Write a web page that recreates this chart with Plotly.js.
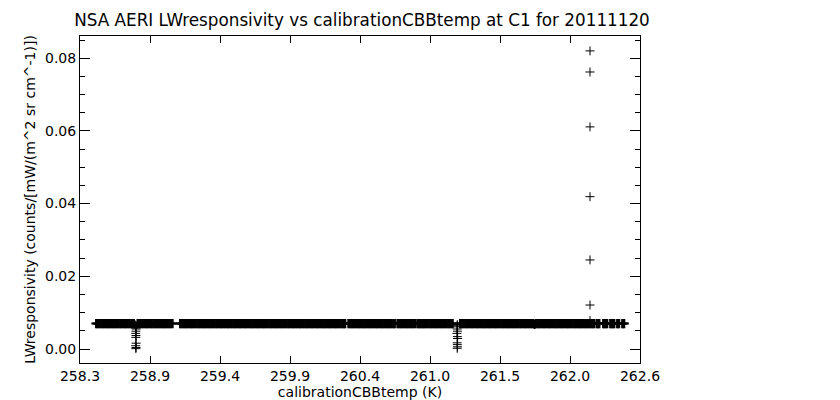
<!DOCTYPE html>
<html>
<head>
<meta charset="utf-8">
<script src="https://cdn.plot.ly/plotly-3.0.1.min.js"></script>
<style>html,body{margin:0;padding:0;background:#fff;}#chart{width:840px;height:400px;}</style>
</head>
<body>
<div id="chart"></div>
<script>
// Dense calibration band, read per contiguous segment as [calibrationCBBtemp (K), LWresponsivity]
const seg1 = [[258.470,0.0070],[258.479,0.0070],[258.489,0.0070],[258.497,0.0070],[258.506,0.0070],[258.516,0.0070],[258.524,0.0070],[258.533,0.0070],[258.543,0.0070],[258.551,0.0070],[258.560,0.0070],[258.570,0.0070],[258.578,0.0070],[258.587,0.0070],[258.597,0.0070],[258.605,0.0070],[258.614,0.0070],[258.624,0.0070],[258.632,0.0070],[258.641,0.0070],[258.651,0.0070],[258.659,0.0070],[258.668,0.0070],[258.678,0.0070],[258.686,0.0070],[258.695,0.0070],[258.705,0.0070],[258.713,0.0070],[258.722,0.0070],[258.732,0.0070],[258.740,0.0070],[258.748,0.0070],[258.755,0.0070]];
const seg2 = [[258.781,0.0070],[258.790,0.0070],[258.799,0.0070],[258.808,0.0070],[258.818,0.0070],[258.826,0.0070],[258.835,0.0070],[258.845,0.0070],[258.853,0.0070],[258.862,0.0070],[258.872,0.0070],[258.880,0.0070],[258.889,0.0070],[258.899,0.0070],[258.907,0.0070],[258.916,0.0070],[258.926,0.0070],[258.934,0.0070],[258.943,0.0070],[258.953,0.0070],[258.961,0.0070],[258.970,0.0070],[258.980,0.0070],[258.988,0.0070],[258.997,0.0070],[259.007,0.0070],[259.015,0.0070],[259.024,0.0070],[259.034,0.0070],[259.045,0.0070]];
const seg3 = [[259.100,0.0070],[259.109,0.0070],[259.118,0.0070],[259.128,0.0070],[259.136,0.0070],[259.145,0.0070],[259.155,0.0070],[259.163,0.0070],[259.172,0.0070],[259.182,0.0070],[259.190,0.0070],[259.199,0.0070],[259.209,0.0070],[259.217,0.0070],[259.226,0.0070],[259.236,0.0070],[259.244,0.0070],[259.253,0.0070],[259.263,0.0070],[259.271,0.0070],[259.280,0.0070],[259.290,0.0070],[259.298,0.0070],[259.307,0.0070],[259.317,0.0070],[259.325,0.0070],[259.334,0.0070],[259.344,0.0070],[259.352,0.0070],[259.361,0.0070],[259.371,0.0070],[259.379,0.0070],[259.388,0.0070],[259.398,0.0070],[259.406,0.0070],[259.415,0.0070],[259.425,0.0070],[259.433,0.0070],[259.442,0.0070],[259.452,0.0070],[259.460,0.0070],[259.469,0.0070],[259.479,0.0070],[259.487,0.0070],[259.496,0.0070],[259.506,0.0070],[259.514,0.0070],[259.523,0.0070],[259.533,0.0070],[259.541,0.0070],[259.550,0.0070],[259.560,0.0070],[259.568,0.0070],[259.577,0.0070],[259.587,0.0070],[259.595,0.0070],[259.604,0.0070],[259.614,0.0070],[259.622,0.0070],[259.631,0.0070],[259.641,0.0070],[259.649,0.0070],[259.658,0.0070],[259.668,0.0070],[259.676,0.0070],[259.685,0.0070],[259.695,0.0070],[259.703,0.0070],[259.712,0.0070],[259.722,0.0070],[259.730,0.0070],[259.739,0.0070],[259.749,0.0070],[259.757,0.0070],[259.766,0.0070],[259.776,0.0070],[259.784,0.0070],[259.793,0.0070],[259.803,0.0070],[259.811,0.0070],[259.820,0.0070],[259.830,0.0070],[259.838,0.0070],[259.847,0.0070],[259.857,0.0070],[259.865,0.0070],[259.874,0.0070],[259.884,0.0070],[259.892,0.0070],[259.901,0.0070],[259.911,0.0070],[259.919,0.0070],[259.928,0.0070],[259.938,0.0070],[259.946,0.0070],[259.955,0.0070],[259.965,0.0070],[259.973,0.0070],[259.982,0.0070],[259.992,0.0070],[260.000,0.0070],[260.009,0.0070],[260.019,0.0070],[260.027,0.0070],[260.036,0.0070],[260.046,0.0070],[260.054,0.0070],[260.063,0.0070],[260.073,0.0070],[260.081,0.0070],[260.090,0.0070],[260.100,0.0070],[260.108,0.0070],[260.117,0.0070],[260.127,0.0070],[260.135,0.0070],[260.144,0.0070],[260.154,0.0070],[260.162,0.0070],[260.171,0.0070],[260.181,0.0070],[260.189,0.0070],[260.198,0.0070],[260.208,0.0070],[260.216,0.0070],[260.225,0.0070],[260.235,0.0070],[260.243,0.0070],[260.252,0.0070],[260.262,0.0070],[260.270,0.0070],[260.279,0.0070],[260.289,0.0070],[260.297,0.0070],[260.306,0.0070],[260.316,0.0070],[260.324,0.0070],[260.333,0.0070],[260.340,0.0070]];
const seg4 = [[260.362,0.0070],[260.371,0.0070],[260.381,0.0070],[260.389,0.0070],[260.398,0.0070],[260.408,0.0070],[260.416,0.0070],[260.425,0.0070],[260.435,0.0070],[260.443,0.0070],[260.452,0.0070],[260.462,0.0070],[260.470,0.0070],[260.479,0.0070],[260.489,0.0070],[260.497,0.0070],[260.506,0.0070],[260.516,0.0070],[260.524,0.0070],[260.533,0.0070],[260.543,0.0070],[260.551,0.0070],[260.560,0.0070],[260.570,0.0070],[260.578,0.0070],[260.587,0.0070],[260.597,0.0070],[260.605,0.0070],[260.614,0.0070],[260.624,0.0070],[260.632,0.0070],[260.641,0.0070],[260.651,0.0070],[260.659,0.0070],[260.668,0.0070],[260.678,0.0070],[260.686,0.0070],[260.695,0.0070],[260.705,0.0070],[260.712,0.0070]];
const seg5 = [[260.730,0.0070],[260.739,0.0070],[260.749,0.0070],[260.757,0.0070],[260.766,0.0070],[260.776,0.0070],[260.784,0.0070],[260.793,0.0070],[260.803,0.0070],[260.811,0.0070],[260.820,0.0070],[260.830,0.0070],[260.838,0.0070],[260.847,0.0070],[260.857,0.0070],[260.866,0.0070]];
const seg6 = [[260.880,0.0070],[260.888,0.0070],[260.897,0.0070],[260.905,0.0070],[260.914,0.0070],[260.922,0.0070],[260.930,0.0070],[260.939,0.0070],[260.949,0.0070],[260.957,0.0070],[260.966,0.0070],[260.976,0.0070],[260.984,0.0070],[260.993,0.0070],[261.003,0.0070],[261.011,0.0070],[261.020,0.0070],[261.030,0.0070],[261.038,0.0070],[261.047,0.0070],[261.057,0.0070],[261.065,0.0070],[261.074,0.0070],[261.084,0.0070],[261.092,0.0070],[261.101,0.0070],[261.111,0.0070],[261.119,0.0070],[261.128,0.0070],[261.138,0.0070],[261.146,0.0070]];
const seg7 = [[261.200,0.0070],[261.209,0.0070],[261.219,0.0070],[261.227,0.0070],[261.236,0.0070],[261.246,0.0070],[261.254,0.0070],[261.263,0.0070],[261.273,0.0070],[261.281,0.0070],[261.290,0.0070],[261.300,0.0070],[261.308,0.0070],[261.317,0.0070],[261.327,0.0070],[261.335,0.0070],[261.344,0.0070],[261.354,0.0070],[261.362,0.0070],[261.371,0.0070],[261.381,0.0070],[261.389,0.0070],[261.398,0.0070],[261.408,0.0070],[261.416,0.0070],[261.425,0.0070],[261.435,0.0070],[261.443,0.0070],[261.452,0.0070],[261.462,0.0070],[261.470,0.0070],[261.479,0.0070],[261.489,0.0070],[261.497,0.0070],[261.506,0.0070],[261.516,0.0070],[261.524,0.0070],[261.533,0.0070],[261.543,0.0070],[261.551,0.0070],[261.560,0.0070],[261.570,0.0070],[261.578,0.0070],[261.587,0.0070],[261.597,0.0070],[261.605,0.0070],[261.614,0.0070],[261.624,0.0070],[261.632,0.0070],[261.641,0.0070],[261.651,0.0070],[261.659,0.0070],[261.668,0.0070],[261.678,0.0070],[261.686,0.0070],[261.695,0.0070],[261.705,0.0070],[261.713,0.0070],[261.722,0.0070],[261.732,0.0070],[261.740,0.0070],[261.749,0.0070],[261.759,0.0068],[261.767,0.0070],[261.776,0.0070],[261.786,0.0070],[261.794,0.0070],[261.803,0.0070],[261.813,0.0070],[261.821,0.0070],[261.830,0.0070],[261.840,0.0070],[261.848,0.0070],[261.857,0.0070],[261.867,0.0070],[261.875,0.0070],[261.884,0.0070],[261.894,0.0070],[261.902,0.0070],[261.911,0.0070],[261.921,0.0070],[261.929,0.0070],[261.938,0.0070],[261.948,0.0070],[261.956,0.0070],[261.965,0.0070],[261.975,0.0070],[261.983,0.0070],[261.992,0.0070],[262.002,0.0070],[262.010,0.0070],[262.019,0.0070],[262.029,0.0070],[262.037,0.0070],[262.046,0.0070],[262.056,0.0070],[262.064,0.0070],[262.073,0.0070],[262.083,0.0070],[262.091,0.0070],[262.100,0.0070],[262.110,0.0070],[262.118,0.0070],[262.127,0.0070],[262.137,0.0070],[262.145,0.0070],[262.154,0.0070],[262.164,0.0070],[262.172,0.0070],[262.181,0.0070],[262.191,0.0070],[262.199,0.0070],[262.207,0.0070]];
const seg8 = [[262.224,0.0070],[262.231,0.0070],[262.238,0.0070],[262.246,0.0070],[262.273,0.0070],[262.281,0.0070],[262.289,0.0070],[262.297,0.0070],[262.305,0.0070],[262.326,0.0070],[262.334,0.0070],[262.342,0.0070],[262.350,0.0070],[262.358,0.0070],[262.378,0.0070],[262.386,0.0070],[262.394,0.0070],[262.416,0.0070],[262.424,0.0070],[262.432,0.0070]];

// Isolated points
const lowLeftX  = [258.768, 258.770, 258.767, 258.771, 258.769, 258.768, 258.770, 258.769, 258.771, 258.768, 258.770, 258.769];
const lowLeftY  = [0.0066, 0.0064, 0.0058, 0.0055, 0.0049, 0.0043, 0.0037, 0.0032, 0.0016, 0.0009, 0.0004, 0.0001];
const lowMidX   = [261.180, 261.178, 261.182, 261.179, 261.181, 261.177, 261.180, 261.182, 261.179, 261.180, 261.181, 261.179];
const lowMidY   = [0.0067, 0.0064, 0.0061, 0.0055, 0.0049, 0.0043, 0.0034, 0.0029, 0.0017, 0.0012, 0.0006, 0.0002];
const highX     = [262.175, 262.175, 262.175, 262.175, 262.175, 262.175, 262.175];
const highY     = [0.0820, 0.0762, 0.0611, 0.0419, 0.0245, 0.0121, 0.0078];

// Axis ticks
const xTickVals = [258.35, 258.875, 259.40, 259.925, 260.45, 260.975, 261.50, 262.025, 262.55];
const xTickText = ['258.3', '258.9', '259.4', '259.9', '260.4', '261.0', '261.5', '262.0', '262.6'];
const yTickVals = [0.00, 0.02, 0.04, 0.06, 0.08];
const yTickText = ['0.00', '0.02', '0.04', '0.06', '0.08'];

const band = [].concat(seg1, seg2, seg3, seg4, seg5, seg6, seg7, seg8);
const plusMarker = (w, s) => ({symbol: 'cross-thin-open', size: s, color: '#000', line: {color: '#000', width: w}});

const traces = [
  {type: 'scatter', mode: 'markers', x: band.map(p => p[0]), y: band.map(p => p[1]), marker: plusMarker(2, 6.6)},
  {type: 'scatter', mode: 'markers', x: lowLeftX, y: lowLeftY, marker: plusMarker(1, 6.4)},
  {type: 'scatter', mode: 'markers', x: lowMidX, y: lowMidY, marker: plusMarker(1, 6.4)},
  {type: 'scatter', mode: 'markers', x: highX, y: highY, marker: plusMarker(1, 6.4)}
];

const fontFam = 'DejaVu Sans, sans-serif';
const layout = {
  width: 840, height: 400,
  margin: {l: 80, r: 200, t: 36, b: 37},
  paper_bgcolor: '#fff', plot_bgcolor: '#fff',
  showlegend: false,
  font: {family: fontFam, size: 14, color: '#000'},
  title: {text: 'NSA AERI LWresponsivity vs calibrationCBBtemp at C1 for 20111120', font: {family: fontFam, size: 16.8, color: '#000'}, x: 362/840, xref: 'container', xanchor: 'center', y: 1 - 20/400, yref: 'container', yanchor: 'middle'},
  xaxis: {
    range: [258.35, 262.55], tickmode: 'array', tickvals: xTickVals, ticktext: xTickText,
    ticks: 'inside', ticklen: 7, tickwidth: 1, tickcolor: '#000',
    showline: true, linecolor: '#000', linewidth: 1, mirror: 'ticks',
    showgrid: false, zeroline: false,
    tickfont: {family: fontFam, size: 14, color: '#000'},
    title: {text: 'calibrationCBBtemp (K)', font: {family: fontFam, size: 14, color: '#000'}, standoff: 2}
  },
  yaxis: {
    range: [-0.00385, 0.0861], tickmode: 'array', tickvals: yTickVals, ticktext: yTickText,
    ticks: 'inside', ticklen: 10, tickwidth: 1, tickcolor: '#000',
    minor: {dtick: 0.005, tick0: 0, ticks: 'inside', ticklen: 5, tickcolor: '#000', tickwidth: 1, showgrid: false},
    showline: true, linecolor: '#000', linewidth: 1, mirror: 'ticks',
    showgrid: false, zeroline: false,
    tickfont: {family: fontFam, size: 14, color: '#000'},
    title: {text: 'LWresponsivity (counts/[mW/(m^2 sr cm^-1)])', font: {family: fontFam, size: 14, color: '#000'}, standoff: 6}
  }
};

Plotly.newPlot('chart', traces, layout, {displayModeBar: false, staticPlot: true});
</script>
</body>
</html>
